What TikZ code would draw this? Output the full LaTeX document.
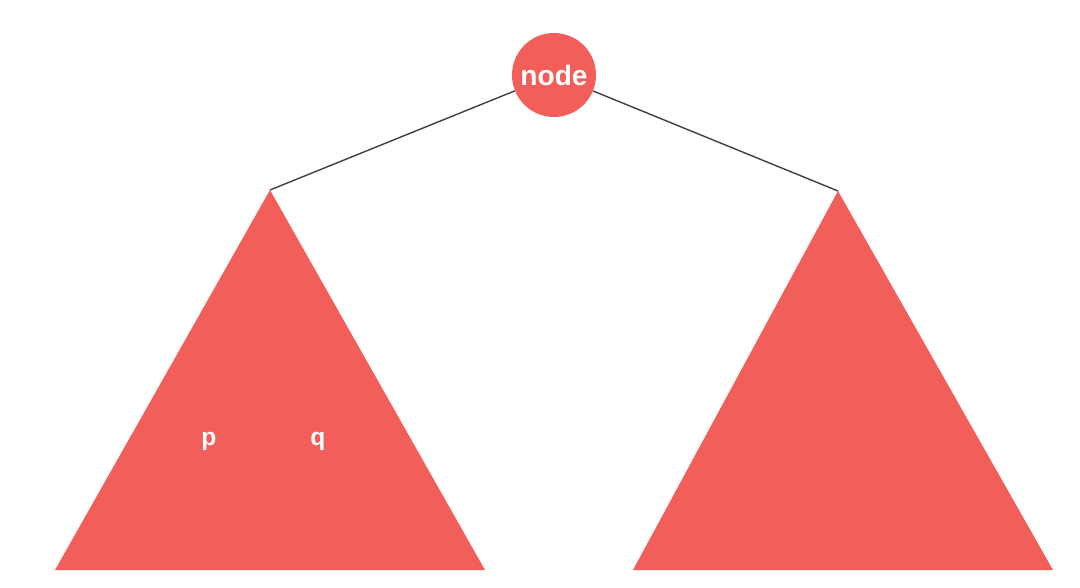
\documentclass[tikz,border=0pt]{standalone}
\usepackage{fontspec}
\setmainfont{Liberation Sans}
\usepackage{xcolor}
\definecolor{treered}{RGB}{242,94,90}
\begin{document}
\begin{tikzpicture}[x=0.02cm,y=-0.02cm, every node/.style={text=white,font=\bfseries}]
			\useasboundingbox (0,0) rectangle (1080,588);
			\coordinate (ltop) at (270,190);
			\coordinate (rtop) at (838,191);
			\fill[treered] (ltop) -- (55,570) -- (485,570) -- cycle;
			\fill[treered] (rtop) -- (633,570) -- (1053,570) -- cycle;
			\node[circle,fill=treered,minimum size=1.68cm,inner sep=0pt,font=\bfseries\fontsize{16}{18}\selectfont] (root) at (554,75) {node};
			\draw[black!75,line width=0.8pt] (root) -- (ltop);
			\draw[black!75,line width=0.8pt] (root) -- (rtop);
			\node[font=\bfseries\fontsize{14}{16}\selectfont] (p) at (209,441) {p};
			\node[font=\bfseries\fontsize{14}{16}\selectfont] (q) at (318,441) {q};
		\end{tikzpicture}
\end{document}
